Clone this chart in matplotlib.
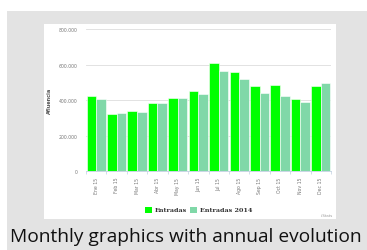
import matplotlib.pyplot as plt
from matplotlib.patches import Rectangle
from matplotlib.ticker import FuncFormatter, FixedLocator
import numpy as np

months = ['Ene 15', 'Feb 15', 'Mar 15', 'Abr 15', 'May 15', 'Jun 15',
          'Jul 15', 'Ago 15', 'Sep 15', 'Oct 15', 'Nov 15', 'Dec 15']
entradas = [425000, 322000, 337000, 382000, 414000, 451000,
            607000, 560000, 481000, 485000, 406000, 481000]
entradas_2014 = [406000, 326000, 335000, 382000, 414000, 437000,
                 564000, 521000, 440000, 425000, 390000, 496000]

W, H = 367, 251
fig = plt.figure(figsize=(W / 100, H / 100), dpi=100)
fig.patch.set_facecolor('white')

# gray slide background, leaving a white margin top and left
fig.patches.append(Rectangle((7 / W, 0), 1 - 7 / W, 1 - 12 / H,
                             transform=fig.transFigure, facecolor='#e3e3e3',
                             edgecolor='none', zorder=-2))

# white chart panel (as a background axes)
panel = fig.add_axes([44 / W, 1 - 220 / H, 292 / W, 195 / H], zorder=-1)
panel.set_facecolor('white')
panel.set_xticks([])
panel.set_yticks([])
for s in panel.spines.values():
    s.set_visible(False)

ax = fig.add_axes([86 / W, 1 - 172.3 / H, 245 / W, 142.3 / H])
ax.set_facecolor('white')
x = np.arange(len(months))
bw = 0.47
ax.bar(x - bw / 2, entradas, bw, color='#00ff00', edgecolor='white', linewidth=0.4, zorder=3)
ax.bar(x + bw / 2, entradas_2014, bw, color='#80d8a8', edgecolor='white', linewidth=0.4, zorder=3)

ax.set_xlim(-0.5, len(months) - 0.5)
ax.set_ylim(0, 800000)
ax.set_yticks([0, 200000, 400000, 600000, 800000])
ax.yaxis.set_major_formatter(FuncFormatter(lambda v, p: f'{int(v):,}'.replace(',', '.')))
ax.grid(axis='y', color='#dddddd', linewidth=0.6, zorder=0)
ax.tick_params(axis='y', length=0, labelsize=3.3, labelcolor='#777777', pad=6)

ax.set_xticks(x)
ax.set_xticklabels(months, rotation=90, fontsize=3.3, color='#777777')
ax.xaxis.set_minor_locator(FixedLocator(np.arange(-0.5, len(months), 1)))
ax.tick_params(axis='x', which='major', length=0, pad=4)
ax.tick_params(axis='x', which='minor', length=2.5, color='#c0d0e0', width=0.5)

for s in ['top', 'right', 'left']:
    ax.spines[s].set_visible(False)
ax.spines['bottom'].set_color('#c0d0e0')
ax.spines['bottom'].set_linewidth(0.6)

ax.set_ylabel('Afluencia', fontsize=3.6, color='#555555', fontweight='bold', labelpad=5)

# legend
fig.patches.append(Rectangle((145 / W, 1 - 213.5 / H), 7 / W, 6 / H,
                             transform=fig.transFigure, facecolor='#00ff00', zorder=2))
fig.text(155 / W, 1 - 210.7 / H, 'Entradas', fontsize=4.6, family='DejaVu Serif',
         fontweight='bold', color='#333333', va='center')
fig.patches.append(Rectangle((190 / W, 1 - 213.5 / H), 7 / W, 6 / H,
                             transform=fig.transFigure, facecolor='#80d8a8', zorder=2))
fig.text(200 / W, 1 - 210.7 / H, 'Entradas 2014', fontsize=4.6, family='DejaVu Serif',
         fontweight='bold', color='#333333', va='center')
fig.text(333 / W, 1 - 216 / H, 'i.Stats', fontsize=2.8, color='#999999', ha='right', va='center')

fig.text(186 / W, 1 - 237 / H, 'Monthly graphics with annual evolution', fontsize=13.8,
         family='Open Sans', color='#111111', ha='center', va='center')

fig.savefig('out.png', dpi=100, facecolor=fig.get_facecolor())
